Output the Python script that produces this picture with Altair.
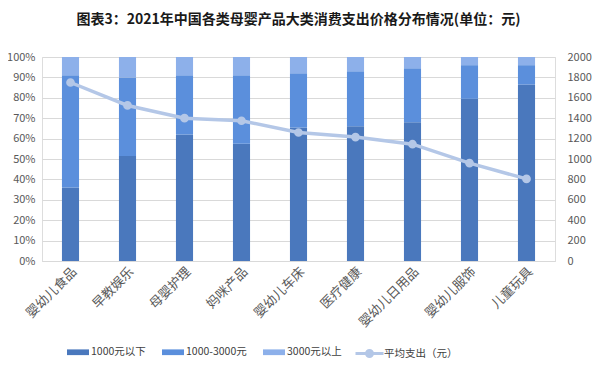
import altair as alt
import pandas as pd

categories = ["婴幼儿食品", "早教娱乐", "母婴护理", "妈咪产品", "婴幼儿车床",
              "医疗健康", "婴幼儿日用品", "婴幼儿服饰", "儿童玩具"]
share_below_1000 = [36.0, 51.5, 62.0, 57.5, 65.5, 66.0, 68.0, 79.5, 86.5]
share_1000_3000 = [55.0, 38.5, 29.0, 33.5, 26.5, 27.0, 26.5, 16.5, 9.5]
share_above_3000 = [9.0, 10.0, 9.0, 9.0, 8.0, 7.0, 5.5, 4.0, 4.0]
avg_spend = [1750, 1525, 1400, 1375, 1260, 1215, 1145, 960, 805]

series_names = ["1000元以下", "1000-3000元", "3000元以上"]
series_colors = ["#4A78BD", "#5B8FDC", "#8DB0EA"]
line_name = "平均支出（元）"
line_color = "#B4C7E7"

rows = []
for i, c in enumerate(categories):
    for k, (name, vals) in enumerate(zip(series_names,
                                         [share_below_1000, share_1000_3000, share_above_3000])):
        rows.append({"cat": c, "series": name, "order": k, "value": vals[i] / 100.0})
bar_df = pd.DataFrame(rows)
line_df = pd.DataFrame({"cat": categories, "avg": avg_spend, "name": line_name})

FONT = "Noto Sans CJK SC"

x_enc = alt.X("cat:N", sort=categories, title=None,
              scale=alt.Scale(paddingInner=0.7, paddingOuter=0.35),
              axis=alt.Axis(labelAngle=-45, ticks=False, domainColor="#D9D9D9",
                            labelColor="#595959", labelFontSize=13, labelFont=FONT,
                            labelPadding=4))

bars = alt.Chart(bar_df).mark_bar().encode(
    x=x_enc,
    y=alt.Y("value:Q", stack="zero", title=None,
            scale=alt.Scale(domain=[0, 1], nice=False),
            axis=alt.Axis(format=".0%", values=[i / 10 for i in range(11)],
                          grid=True, gridColor="#D9D9D9", domain=False, ticks=False,
                          labelColor="#595959", labelFontSize=11, labelFont=FONT,
                          labelPadding=7)),
    fill=alt.Fill("series:N", sort=series_names,
                  scale=alt.Scale(domain=series_names, range=series_colors),
                  legend=alt.Legend(title=None, orient="none", direction="horizontal",
                                    legendX=25, legendY=284, columns=3,
                                    symbolType="M-1,-0.26L1,-0.26L1,0.26L-1,0.26Z",
                                    symbolSize=484, symbolStrokeWidth=0,
                                    labelFontSize=10.5, labelFont=FONT, labelColor="#404040",
                                    columnPadding=16, labelOffset=2)),
    order=alt.Order("order:Q"),
)

line = alt.Chart(line_df).mark_line(
    strokeWidth=3.5, point=alt.OverlayMarkDef(filled=True, size=45, color=line_color)
).encode(
    x=x_enc,
    y=alt.Y("avg:Q", title=None,
            scale=alt.Scale(domain=[0, 2000], nice=False),
            axis=alt.Axis(orient="right", values=list(range(0, 2001, 200)), format="d",
                          grid=False, domain=False, ticks=False,
                          labelColor="#595959", labelFontSize=11, labelFont=FONT,
                          labelPadding=12)),
    stroke=alt.Stroke("name:N",
                      scale=alt.Scale(domain=[line_name], range=[line_color]),
                      legend=alt.Legend(title=None, orient="none", legendX=316, legendY=285,
                                        symbolType="M-1.4,0L1.4,0M0.3,0A0.3,0.3 0 1,1 -0.3,0A0.3,0.3 0 1,1 0.3,0",
                                        symbolSize=400, symbolStrokeWidth=3,
                                        symbolFillColor=line_color,
                                        labelFontSize=10.5, labelFont=FONT, labelColor="#404040",
                                        labelOffset=3)),
)

chart = alt.layer(bars, line).resolve_scale(
    y="independent", fill="independent", stroke="independent"
).properties(
    width=513, height=204,
    title=alt.TitleParams("图表3：2021年中国各类母婴产品大类消费支出价格分布情况(单位：元)",
                          anchor="middle", frame="group", offset=24,
                          fontSize=14, fontWeight="bold", font=FONT, color="#1A1A1A"),
    autosize=alt.AutoSizeParams(type="none"),
    padding={"left": 34, "top": 49, "right": 37, "bottom": 105},
).configure_view(stroke=None).configure(background="white")

chart.save("out.html", embed_options={"renderer": "svg", "actions": False})
